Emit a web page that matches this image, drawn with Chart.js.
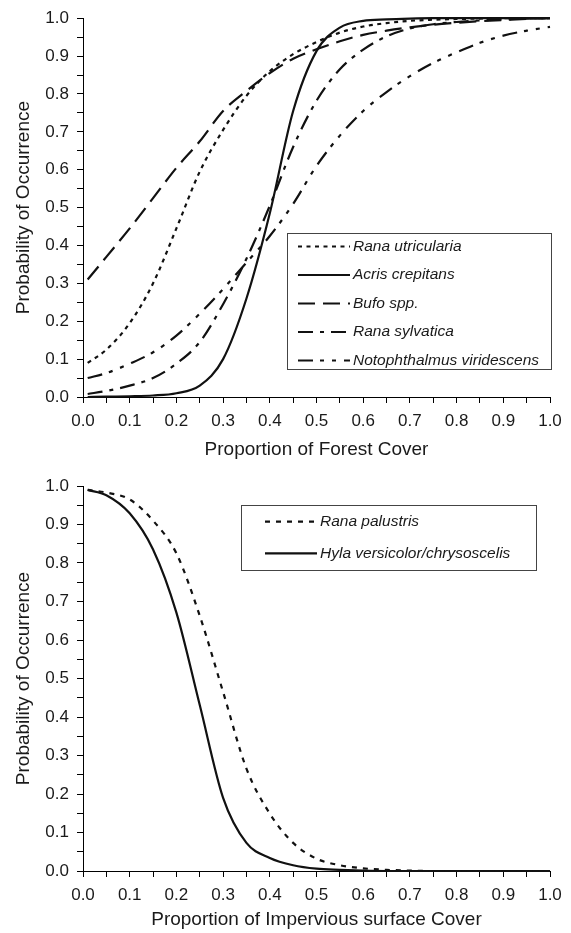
<!DOCTYPE html>
<html>
<head>
<meta charset="utf-8">
<script src="https://cdn.jsdelivr.net/npm/chart.js@4"></script>
<style>
  html, body { margin: 0; padding: 0; background: #ffffff; }
  #wrap { position: relative; width: 571px; height: 933px; }
  .panel { position: absolute; left: 0; width: 571px; }
</style>
</head>
<body>
<div id="wrap">
  <div class="panel" style="top:0;height:466px"><canvas id="forestChart"></canvas></div>
  <div class="panel" style="top:466px;height:467px"><canvas id="imperviousChart"></canvas></div>
</div>
<script>
// ---------- data ----------
const forestCover = [0.01, 0.05, 0.10, 0.15, 0.20, 0.25, 0.30, 0.35, 0.40, 0.45, 0.50,
                     0.55, 0.60, 0.65, 0.70, 0.75, 0.80, 0.85, 0.90, 0.95, 1.00];
const ranaUtricularia = [0.09, 0.125, 0.195, 0.30, 0.445, 0.595, 0.705, 0.795, 0.86, 0.905, 0.937,
                         0.962, 0.978, 0.987, 0.993, 0.996, 0.998, 0.999, 1.0, 1.0, 1.0];
const acrisCrepitans = [0.0, 0.001, 0.002, 0.004, 0.01, 0.03, 0.10, 0.26, 0.485, 0.755, 0.913,
                        0.975, 0.993, 0.997, 0.999, 1.0, 1.0, 1.0, 1.0, 1.0, 1.0];
const bufoSpp = [0.31, 0.37, 0.445, 0.525, 0.605, 0.675, 0.755, 0.808, 0.855, 0.893, 0.918,
                 0.939, 0.956, 0.967, 0.976, 0.983, 0.988, 0.992, 0.995, 0.998, 1.0];
const ranaSylvatica = [0.008, 0.016, 0.03, 0.05, 0.088, 0.145, 0.245, 0.365, 0.505, 0.66, 0.782,
                       0.865, 0.917, 0.952, 0.973, 0.984, 0.99, 0.994, 0.997, 0.999, 1.0];
const notophthalmusViridescens = [0.05, 0.063, 0.088, 0.118, 0.162, 0.22, 0.285, 0.355, 0.425, 0.51, 0.61,
                                  0.69, 0.755, 0.805, 0.847, 0.882, 0.91, 0.935, 0.954, 0.967, 0.977];

const imperviousCover = [0.01, 0.05, 0.10, 0.15, 0.20, 0.25, 0.30, 0.35, 0.40, 0.45, 0.50,
                         0.55, 0.60, 0.65, 0.70, 0.75, 0.80, 0.85, 0.90, 0.95, 1.00];
const ranaPalustris = [0.99, 0.983, 0.965, 0.91, 0.825, 0.663, 0.465, 0.266, 0.149, 0.073, 0.032,
                       0.015, 0.007, 0.003, 0.001, 0.0, 0.0, 0.0, 0.0, 0.0, 0.0];
const hylaVersicolor = [0.99, 0.976, 0.929, 0.835, 0.671, 0.431, 0.19, 0.073, 0.034, 0.015, 0.006,
                        0.003, 0.001, 0.0, 0.0, 0.0, 0.0, 0.0, 0.0, 0.0, 0.0];

const tickLabels = ['0.0', '0.1', '0.2', '0.3', '0.4', '0.5', '0.6', '0.7', '0.8', '0.9', '1.0'];

const forestTitle = 'Proportion of Forest Cover';
const imperviousTitle = 'Proportion of Impervious surface Cover';
const yTitle = 'Probability of Occurrence';

// ---------- styling ----------
const FONT = "'Liberation Sans', Arial, Helvetica, sans-serif";
const INK = '#1a1a1a';
const LINE = '#111111';
Chart.defaults.font.family = FONT;
Chart.defaults.color = INK;
Chart.defaults.animation = false;

function tickCallback(value) {
  const k = Math.round(value * 20);
  return k % 2 === 0 ? tickLabels[k / 2] : '';
}

function pts(xs, ys) { return xs.map((x, i) => ({ x: x, y: ys[i] })); }

function series(label, xs, ys, dash) {
  return {
    label: label,
    data: pts(xs, ys),
    borderColor: LINE,
    backgroundColor: LINE,
    borderWidth: 2.2,
    borderDash: dash,
    borderCapStyle: 'butt',
    pointRadius: 0,
    pointHoverRadius: 0,
    fill: false,
    cubicInterpolationMode: 'monotone',
    clip: false
  };
}

// legend drawn inside a framed box in the plot, as in the reference
const boxLegend = {
  id: 'boxLegend',
  afterDraw(chart, args, o) {
    const ctx = chart.ctx;
    ctx.save();
    ctx.fillStyle = '#ffffff';
    ctx.fillRect(o.left, o.top, o.right - o.left, o.bottom - o.top);
    ctx.strokeStyle = '#444444';
    ctx.lineWidth = 1;
    ctx.setLineDash([]);
    ctx.strokeRect(Math.round(o.left) + 0.5, Math.round(o.top) + 0.5,
                   Math.round(o.right - o.left), Math.round(o.bottom - o.top));
    chart.data.datasets.forEach((ds, i) => {
      const y = o.rows[i];
      ctx.beginPath();
      ctx.setLineDash(ds.borderDash || []);
      ctx.lineCap = 'butt';
      ctx.lineWidth = ds.borderWidth;
      ctx.strokeStyle = ds.borderColor;
      ctx.moveTo(o.sampleX1, y);
      ctx.lineTo(o.sampleX2, y);
      ctx.stroke();
      ctx.setLineDash([]);
      ctx.fillStyle = INK;
      ctx.font = 'italic ' + o.fontSize + 'px ' + FONT;
      ctx.textBaseline = 'middle';
      ctx.textAlign = 'left';
      ctx.fillText(ds.label, o.textX, y);
    });
    ctx.restore();
  }
};

function axes(xTitle, xHeight, xTitlePad) {
  const tickFont = { size: 17 };
  const gridCfg = { drawOnChartArea: false, drawTicks: true, tickLength: 6, color: '#000000', lineWidth: 1 };
  return {
    x: {
      type: 'linear', min: 0, max: 1,
      ticks: { stepSize: 0.05, autoSkip: false, maxRotation: 0, minRotation: 0, padding: 8,
               callback: tickCallback, font: tickFont, color: INK },
      grid: gridCfg,
      border: { display: true, color: '#000000', width: 1 },
      title: { display: true, text: xTitle, color: INK, font: { size: 19 },
               padding: { top: 0, bottom: xTitlePad } },
      afterFit(s) { s.height = xHeight; }
    },
    y: {
      type: 'linear', min: 0, max: 1,
      ticks: { stepSize: 0.05, autoSkip: false, padding: 8,
               callback: tickCallback, font: tickFont, color: INK },
      grid: gridCfg,
      border: { display: true, color: '#000000', width: 1 },
      title: { display: true, text: yTitle, color: INK, font: { size: 19 },
               padding: { top: 12, bottom: 0 } },
      afterFit(s) { s.width = 83; }
    }
  };
}

new Chart(document.getElementById('forestChart'), {
  type: 'line',
  data: {
    datasets: [
      series('Rana utricularia', forestCover, ranaUtricularia, [4, 4.5]),
      series('Acris crepitans', forestCover, acrisCrepitans, []),
      series('Bufo spp.', forestCover, bufoSpp, [17, 8]),
      series('Rana sylvatica', forestCover, ranaSylvatica, [15, 7, 4, 7]),
      series('Notophthalmus viridescens', forestCover, notophthalmusViridescens, [15, 7, 4, 8, 4, 8])
    ]
  },
  options: {
    responsive: true,
    maintainAspectRatio: false,
    layout: { padding: { top: 15, right: 21, bottom: 0, left: 0 } },
    scales: axes(forestTitle, 69, 4.6),
    plugins: {
      legend: { display: false },
      tooltip: { enabled: false },
      boxLegend: { left: 287, top: 232.5, right: 551, bottom: 368,
                   rows: [246.5, 275, 303.5, 332, 360.5],
                   sampleX1: 298, sampleX2: 350, textX: 353, fontSize: 15.5 }
    },
    events: []
  },
  plugins: [boxLegend]
});

new Chart(document.getElementById('imperviousChart'), {
  type: 'line',
  data: {
    datasets: [
      series('Rana palustris', imperviousCover, ranaPalustris, [5, 6]),
      series('Hyla versicolor/chrysoscelis', imperviousCover, hylaVersicolor, [])
    ]
  },
  options: {
    responsive: true,
    maintainAspectRatio: false,
    layout: { padding: { top: 20, right: 21, bottom: 0, left: 0 } },
    scales: axes(imperviousTitle, 62, 1.6),
    plugins: {
      legend: { display: false },
      tooltip: { enabled: false },
      boxLegend: { left: 241, top: 39, right: 536, bottom: 104,
                   rows: [55.7, 87.3],
                   sampleX1: 265, sampleX2: 317, textX: 320, fontSize: 15.5 }
    },
    events: []
  },
  plugins: [boxLegend]
});
</script>
</body>
</html>
